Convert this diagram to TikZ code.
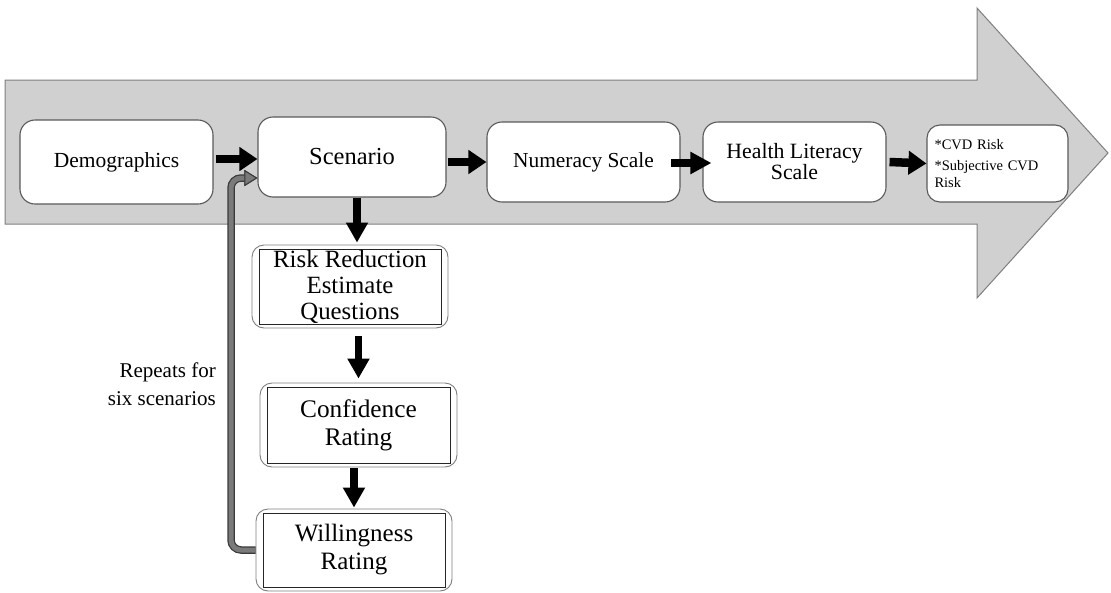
\documentclass[tikz,border=0pt]{standalone}
\usepackage{fontspec}
\setmainfont{Liberation Serif}
\usetikzlibrary{arrows.meta,calc}
\definecolor{bgarrow}{HTML}{D0D0D0}
\definecolor{bgedge}{HTML}{7F7F7F}
\definecolor{boxedge}{HTML}{5A5A5A}
\definecolor{loopfill}{HTML}{7A7A7A}
\definecolor{loopedge}{HTML}{3A3A3A}
\tikzset{
  stepbox/.style={draw=boxedge, line width=1.1pt, fill=white, rounded corners=15pt, inner sep=0pt, align=center},
  dblbox/.style={draw=bgedge, line width=0.9pt, fill=white, rounded corners=12pt, inner sep=0pt, align=center,
    path picture={\draw[black!85, line width=0.9pt, sharp corners]
      ([shift={(7pt,-4pt)}]path picture bounding box.north west) rectangle
      ([shift={(-7pt,4pt)}]path picture bounding box.south east);}},
  blkarrow/.style={draw=black, line width=8.5pt, -{Triangle[length=18pt,width=23pt]}},
  blkdown/.style={draw=black, line width=7.5pt, -{Triangle[length=20pt,width=21pt]}},
  looparrow/.style={draw=loopfill, line width=5pt, rounded corners=10pt,
    preaction={draw=loopedge, line width=7.5pt},
    -{Triangle[length=13pt,width=16pt,color=loopedge,fill=loopfill,line width=1pt]}},
}
\begin{document}
\begin{tikzpicture}[x=1pt,y=-1pt]
\useasboundingbox (0,0) rectangle (1111,592);
% big background arrow
\path[fill=bgarrow, draw=bgedge, line width=1pt]
  (5,80) -- (977,80) -- (977,8) -- (1108,153) -- (977,298) -- (977,224) -- (5,224) -- cycle;
% top row nodes
\node[stepbox, minimum width=193pt, minimum height=84pt, font=\fontsize{21.5}{24}\selectfont] (demo) at (116.5,162)
  {Demographics};
\node[stepbox, minimum width=188pt, minimum height=80pt, font=\fontsize{24.5}{27}\selectfont] (scen) at (352,157)
  {Scenario};
\node[stepbox, minimum width=193pt, minimum height=80pt, font=\fontsize{21.4}{24}\selectfont] (num) at (583.5,162)
  {Numeracy Scale};
\node[stepbox, minimum width=183pt, minimum height=80pt, font=\fontsize{21.8}{21}\selectfont] (hl) at (794.5,162)
  {Health Literacy\\Scale};
\node[stepbox, rounded corners=13pt, minimum width=141pt, minimum height=77pt, text width=126pt, align=left, font=\fontsize{14.5}{16.5}\selectfont] (cvd) at (997.5,163.5)
  {*CVD Risk\\[5pt]*Subjective CVD Risk};
% lower column
\node[dblbox, minimum width=196pt, minimum height=83pt, font=\fontsize{24.8}{26}\selectfont] (rr) at (350,286.5)
  {Risk Reduction\\Estimate\\Questions};
\node[dblbox, minimum width=197pt, minimum height=84pt, font=\fontsize{25.3}{28}\selectfont] (conf) at (358.5,425)
  {Confidence\\Rating};
\node[dblbox, minimum width=196pt, minimum height=82pt, font=\fontsize{25}{28}\selectfont] (will) at (354,550)
  {Willingness\\Rating};
\node[anchor=east, align=right, inner sep=0pt, font=\fontsize{21}{28}\selectfont] (rep) at (216,384)
  {Repeats for\\six scenarios};
% connectors
\draw[blkarrow] ([xshift=2pt,yshift=3pt]demo.east) -- ([yshift=3pt]demo.east -| scen.west);
\draw[blkarrow] ([xshift=1pt]scen.east |- num.west) -- (num.west);
\draw[blkarrow, line width=8pt, -{Triangle[length=21pt,width=21pt]}] ([xshift=-10pt,yshift=-1pt]num.east) -- ([xshift=9pt,yshift=-1pt]hl.west);
\draw[blkarrow] ([xshift=3pt]hl.east) -- (cvd.west);
\draw[blkdown] ([xshift=5pt]scen.south) -- ([xshift=5pt,yshift=2pt]scen.south |- rr.north);
\draw[blkdown] ([yshift=-8pt]rr.south -| conf.north) -- ([yshift=4pt]conf.north);
\draw[blkdown] ([yshift=-1pt]conf.south -| will.north) -- ([yshift=1pt]will.north);
\coordinate (lc) at (231,0);
\draw[looparrow] (will.west) -- (will.west -| lc) |- ([yshift=-21pt]scen.west);
\end{tikzpicture}
\end{document}
